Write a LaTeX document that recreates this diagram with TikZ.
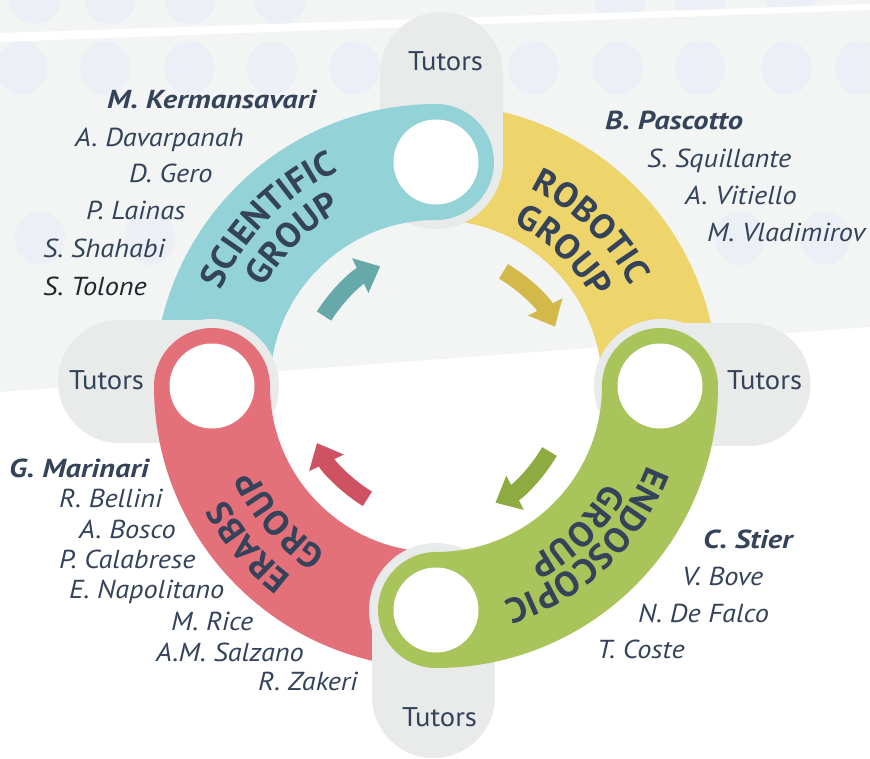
\documentclass[tikz,border=0pt]{standalone}
\usepackage{fontspec}
\setmainfont{PT Sans}
\newfontfamily\nmfont{PT Sans}[FakeStretch=1.09]
\newfontfamily\ldfont{PT Sans}[FakeStretch=1.17]
\newfontfamily\tutfont{PT Sans}[FakeStretch=1.06]
\newfontfamily\grpfamily{PT Sans}[FakeStretch=1.03]
\usetikzlibrary{decorations.text,arrows.meta}
\definecolor{navy}{HTML}{34435A}
\definecolor{darktxt}{HTML}{23262B}
\definecolor{tealc}{HTML}{93D3D8}
\definecolor{yellc}{HTML}{EDD56B}
\definecolor{grnc}{HTML}{A8C45A}
\definecolor{redc}{HTML}{E4707A}
\definecolor{pillc}{HTML}{E9EAEA}
\definecolor{tealA}{HTML}{67A8AA}
\definecolor{yellA}{HTML}{D3B84A}
\definecolor{grnA}{HTML}{8EAB42}
\definecolor{redA}{HTML}{CE5262}
\definecolor{bggray}{HTML}{F3F4F4}
\definecolor{bgblue}{HTML}{ECEFF5}
\newcommand\grpfont{\grpfamily\fontsize{35}{40}\selectfont\bfseries\color{navy}}
\tikzset{
  person/.style={anchor=base west,inner sep=0pt,text=navy,font=\nmfont\fontsize{26}{30}\selectfont\itshape},
  leader/.style={person,font=\ldfont\fontsize{26}{30}\selectfont\bfseries\itshape},
  tutor/.style={anchor=base west,inner sep=0pt,text=navy,font=\tutfont\fontsize{27}{30}\selectfont},
  pill/.style={pillc,line width=123pt,line cap=round},
  band/.style={line width=116pt},
  cyc/.style={line width=17pt,-{Triangle[width=37pt,length=22pt]}},
}
\begin{document}
\begin{tikzpicture}[x=1pt,y=1pt]
\useasboundingbox (0,0) rectangle (870,-759);
\fill[white] (0,0) rectangle (870,-759);
% faint background
\begin{scope}
\clip (0,0) -- (870,0) -- (870,-4) -- (0,-33) -- cycle;
\fill[bggray] (0,0) rectangle (870,-40);
\foreach \x in {35,110,190,280,620,700,790}{\fill[bgblue] (\x,-2) ellipse (25pt and 22pt);}
\end{scope}
\fill[bggray] (0,-42) -- (870,-10) -- (870,-327) -- (0,-392) -- cycle;
\begin{scope}
\clip (0,-42) -- (870,-10) -- (870,-327) -- (0,-392) -- cycle;
\foreach \x in {22,105,189,272,355,533,618,700,787,860}{\fill[bgblue] (\x,-68) ellipse (25pt and 27pt);}
\foreach \x in {40,150,740,825}{\fill[bgblue] (\x,-238) ellipse (25pt and 27pt);}
\end{scope}
% ring
\begin{scope}[shift={(436,-386)}]
\draw[band,yellc] (90:224) arc (90:0:224);
\end{scope}
\draw[pill] (441.5,-73.5) -- (441.5,-162);
\fill[pillc] (435.5,-162) circle (67pt);
\draw[pill] (661,-384) -- (749,-384);
\fill[pillc] (661,-386) circle (67pt);
\begin{scope}[shift={(436,-386)}]
\draw[band,tealc] (180:224) arc (180:90:224);
\fill[tealc] (90:224) circle (58pt);
\end{scope}
\draw[pill] (119.5,-381.5) -- (212,-381.5);
\fill[pillc] (212,-386) circle (67pt);
\begin{scope}[shift={(436,-386)}]
\draw[band,redc] (180:224) arc (180:270:224);
\fill[redc] (180:224) circle (58pt);
\end{scope}
\draw[pill] (433.5,-610) -- (433.5,-696.5);
\fill[pillc] (436,-610) circle (67pt);
\begin{scope}[shift={(436,-386)}]
\draw[band,grnc] (0:224) arc (0:-90:224);
\fill[grnc] (0:224) circle (58pt);
\fill[grnc] (-90:224) circle (58pt);
\foreach \a in {0,90,180,270}{\fill[white] (\a:224) circle (42.5pt);}
% cycle arrows
\draw[cyc,tealA] (148:132) arc (148:115:132);
\draw[cyc,yellA] (59.5:133) arc (59.5:26.5:133);
\draw[cyc,grnA] (-30:131) arc (-30:-63:131);
\draw[cyc,redA] (238.7:132) arc (238.7:205.6:132);
% curved labels
\path[decorate,decoration={text along path,text align=center,text={|\grpfont|SCIENTIFIC}}] (195.3:235.5) arc (195.3:75.3:235.5);
\path[decorate,decoration={text along path,text align=center,text={|\grpfont|GROUP}}] (194.4:198.5) arc (194.4:74.4:198.5);
\path[decorate,decoration={text along path,text align=center,text={|\grpfont|ROBOTIC}}] (105.9:218.5) arc (105.9:-14.1:218.5);
\path[decorate,decoration={text along path,text align=center,text={|\grpfont|GROUP}}] (106.6:179.5) arc (106.6:-13.4:179.5);
\path[decorate,decoration={text along path,text align=center,text={|\grpfont|ENDOSCOPIC}}] (13.4:225.5) arc (13.4:-106.6:225.5);
\path[decorate,decoration={text along path,text align=center,text={|\grpfont|GROUP}}] (14.3:195.5) arc (14.3:-105.7:195.5);
\path[decorate,decoration={text along path,text align=center,text={|\grpfont|ERABS}}] (280.5:238.5) arc (280.5:160.5:238.5);
\path[decorate,decoration={text along path,text align=center,text={|\grpfont|GROUP}}] (280.7:198.5) arc (280.7:160.7:198.5);
\end{scope}
% Tutors
\node[tutor] (tT) at (408,-71) {Tutors};
\node[tutor] (tL) at (69,-389) {Tutors};
\node[tutor] (tR) at (727,-389) {Tutors};
\node[tutor] (tB) at (402,-726) {Tutors};
% scientific names
\node[leader] (s0) at (107,-109) {M. Kermansavari};
\node[person] (s1) at (75,-147) {A. Davarpanah};
\node[person] (s2) at (129,-183) {D. Gero};
\node[person] (s3) at (86,-220) {P. Lainas};
\node[person] (s4) at (43,-258) {S. Shahabi};
\node[person,text=darktxt] (s5) at (43,-295) {S. Tolone};
% robotic names
\node[leader] (r0) at (605,-130) {B. Pascotto};
\node[person] (r1) at (647,-168) {S. Squillante};
\node[person] (r2) at (685,-205) {A. Vitiello};
\node[person] (r3) at (707,-242) {M. Vladimirov};
% endoscopic names
\node[leader] (e0) at (703,-548) {C. Stier};
\node[person] (e1) at (682,-585) {V. Bove};
\node[person] (e2) at (638,-622) {N. De Falco};
\node[person] (e3) at (597,-658) {T. Coste};
% erabs names
\node[leader] (g0) at (9,-477) {G. Marinari};
\node[person] (g1) at (59,-507) {R. Bellini};
\node[person] (g2) at (79,-538) {A. Bosco};
\node[person] (g3) at (59,-568) {P. Calabrese};
\node[person] (g4) at (69,-598) {E. Napolitano};
\node[person] (g5) at (171,-630) {M. Rice};
\node[person] (g6) at (156,-661) {A.M. Salzano};
\node[person] (g7) at (258,-690) {R. Zakeri};
\end{tikzpicture}
\end{document}
